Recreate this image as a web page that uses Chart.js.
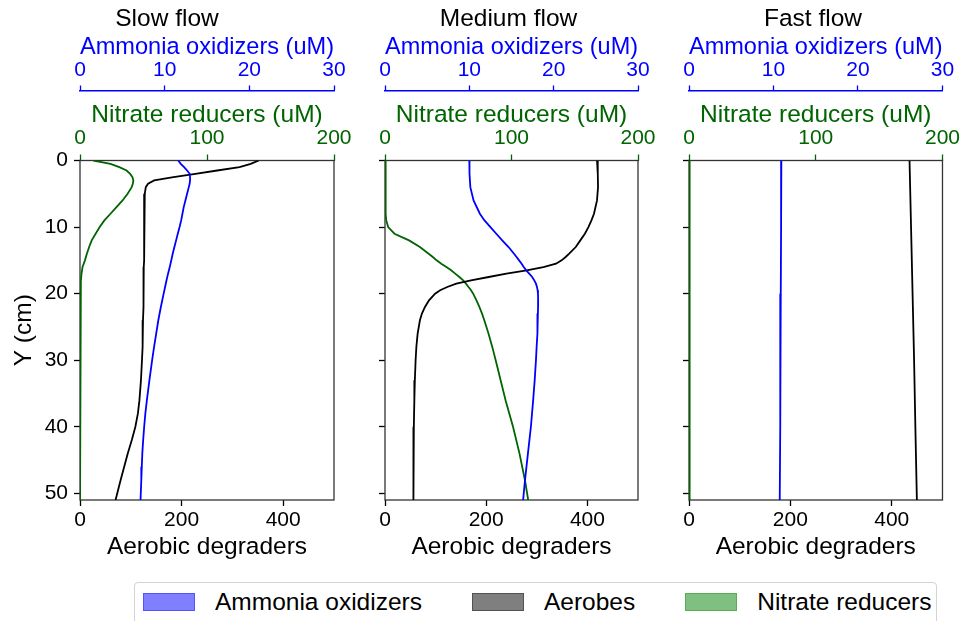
<!DOCTYPE html>
<html>
<head>
<meta charset="utf-8">
<script src="https://cdn.jsdelivr.net/npm/chart.js@4.4.0/dist/chart.umd.min.js"></script>
<style>
    body {
        margin: 0;
        width: 964px;
        height: 621px;
        overflow: hidden;
        background: #fff;
        position: relative;
        font-family: 'Liberation Sans', Arial, sans-serif;
    }
    canvas {
        position: absolute;
        top: 0;
    }
    .legend {
        position: absolute;
        left: 134px;
        top: 582px;
        width: 803px;
        height: 60px;
        border: 1px solid #d3d3d3;
        border-radius: 4px;
        box-sizing: border-box;
        display: flex;
        flex-wrap: nowrap;
        align-items: flex-start;
        padding-left: 8px;
        padding-top: 9px;
        font-size: 24.5px;
        color: #000;
        white-space: nowrap;
    }
    .legend .patch {
        flex: 0 0 auto;
        width: 52px;
        height: 18px;
        box-sizing: border-box;
        margin-right: 20px;
    }
    .legend .item {
        flex: 0 0 auto;
        display: flex;
        align-items: center;
        margin-right: 50px;
        line-height: 20px;
    }
</style>
</head>
<body>
<canvas id="slow" width="357" height="562" style="left:0px"></canvas>
<canvas id="medium" width="295" height="562" style="left:365px"></canvas>
<canvas id="fast" width="299" height="562" style="left:665px"></canvas>
<div class="legend" id="legend"></div>

<script>
// tick labels
const depthTicks = [0, 10, 20, 30, 40, 50];
const aerobicTicks = [0, 200, 400];
const ammoniaTicks = [0, 10, 20, 30];
const nitrateTicks = [0, 100, 200];

const seriesNames = ['Ammonia oxidizers', 'Aerobes', 'Nitrate reducers'];

// Slow flow
const slowDepth = [0, 0.5, 1, 1.5, 2, 2.5, 3, 3.5, 4, 5, 6, 7, 8, 9, 10, 11, 12, 13, 14, 15, 16, 17, 18, 19, 20,
    22, 24, 26, 28, 30, 33, 36, 38, 40, 42, 44, 46, 48, 51];
const slowAerobes = [352, 336, 314, 270, 227, 184, 146, 134, 129.5, 127.5, 127, 126.5, 126.5, 126.5, 126, 126, 126, 126, 126, 126,
    125.5, 125.5, 125, 125, 125, 124.5, 124, 123.5, 123, 122, 120, 117, 114, 109, 102, 94, 87, 80, 70];
const slowAmmonia = [11.6, 11.9, 12.3, 12.65, 12.95, 13.0, 13.0, 12.95, 12.85, 12.65, 12.45, 12.25, 12.1, 11.95, 11.76, 11.55,
    11.35, 11.15, 10.95, 10.78, 10.6, 10.4, 10.22, 10.05, 9.88, 9.55, 9.25, 9.0, 8.75, 8.52, 8.2, 7.9, 7.72, 7.58, 7.46,
    7.36, 7.3, 7.24, 7.15];
const slowNitrate = [10.5, 24, 31, 36.7, 39.5, 41.3, 42, 41.6, 40.7, 37.5, 33.5, 28.7, 24, 19.2, 15.5, 12.3, 9.2, 7.2, 5.4,
    3.9, 2.0, 1.2, 0.7, 0.4, 0.2, 0.05, 0, 0, 0, 0, 0, 0, 0, 0, 0, 0, 0, 0, 0];

// Medium flow
const mediumDepth = [0, 2, 4, 6, 8, 9, 10, 11, 12, 13, 14, 14.5, 15, 15.5, 16, 16.5, 17, 17.5, 18, 18.5, 19, 19.5, 20,
    21, 22, 23, 24, 26, 28, 30, 33, 36, 40, 44, 48, 51];
const mediumAerobes = [419, 420.5, 421, 419, 413, 408, 402, 395, 386, 377, 364, 357, 349, 338, 313, 280, 240, 205, 170, 141,
    123, 109, 99, 87, 79, 73, 69, 64.5, 62, 60.5, 59, 58, 57, 56.5, 56, 56];
const mediumAmmonia = [10.0, 10.02, 10.12, 10.5, 11.25, 11.8, 12.5, 13.2, 13.9, 14.65, 15.3, 15.6, 15.9, 16.2, 16.45, 16.75,
    17.1, 17.45, 17.7, 17.9, 18.02, 18.1, 18.14, 18.16, 18.15, 18.13, 18.1, 18.05, 17.98, 17.9, 17.75, 17.57, 17.3,
    16.95, 16.6, 16.38];
const mediumNitrate = [0.5, 0.5, 0.5, 0.5, 0.6, 1.0, 2.5, 7.5, 19, 27.6, 34.5, 37.8, 40.8, 44.5, 48.5, 52.3, 55.5, 58.8,
    61.8, 64, 66, 68, 69.7, 72.3, 74.6, 76.7, 78.5, 81.8, 84.8, 87.5, 91.4, 95.3, 101.2, 106.3, 110.6, 113.2];

// Fast flow
const fastDepth = [0, 10, 20, 30, 40, 51];
const fastAerobes = [435, 438, 441, 444, 446.5, 449.5];
const fastAmmonia = [10.93, 10.9, 10.86, 10.82, 10.78, 10.74];
const fastNitrate = [0.5, 0.5, 0.5, 0.5, 0.5, 0.5];

const BLUE = '#0000ff';
const BLACK = '#000000';
const GREEN = '#006400';
const FRAME = '#333333';

Chart.defaults.font.family = "'Liberation Sans', Arial, sans-serif";
Chart.defaults.color = '#000';

// frame round the plot area, drawn under the lines
const framePlugin = {
    id: 'frame',
    beforeDatasetsDraw(chart) {
        const { ctx, chartArea: a } = chart;
        ctx.save();
        ctx.strokeStyle = FRAME;
        ctx.lineWidth = 1.3;
        ctx.strokeRect(a.left, a.top, a.right - a.left, a.bottom - a.top);
        ctx.restore();
    }
};

function fixTicks(values) {
    return scale => { scale.ticks = values.map(v => ({ value: v })); };
}

function toPoints(depth, values) {
    return depth.map((d, i) => ({ x: values[i], y: d }));
}

function line(label, depth, values, color, axis) {
    return {
        label: label,
        data: toPoints(depth, values),
        xAxisID: axis,
        yAxisID: 'y',
        borderColor: color,
        backgroundColor: color,
        borderWidth: 1.8,
        pointRadius: 0,
        showLine: true,
        tension: 0
    };
}

function makePanel(id, title, depth, ammonia, aerobes, nitrate, opts) {
    const tickFont = { size: 21 };
    const titleFont = { size: 24.5, lineHeight: 1 };
    return new Chart(document.getElementById(id), {
        type: 'scatter',
        data: {
            datasets: [
                line(seriesNames[0], depth, ammonia, BLUE, 'xA'),
                line(seriesNames[1], depth, aerobes, BLACK, 'x'),
                line(seriesNames[2], depth, nitrate, GREEN, 'xN')
            ]
        },
        options: {
            responsive: false,
            animation: false,
            devicePixelRatio: 1,
            layout: { padding: { left: opts.padLeft, right: opts.padRight, top: 0, bottom: 0 } },
            plugins: {
                legend: { display: false },
                tooltip: { enabled: false },
                title: {
                    display: true,
                    text: title,
                    color: '#000',
                    font: { size: 24.5, weight: 'normal', lineHeight: 1 },
                    padding: { top: 7, bottom: 0 }
                }
            },
            scales: {
                x: {
                    type: 'linear',
                    position: 'bottom',
                    min: 0,
                    max: 500,
                    afterBuildTicks: fixTicks(aerobicTicks),
                    afterFit: s => { s.height = 62; },
                    border: { display: false },
                    grid: { drawOnChartArea: false, color: BLACK, tickLength: 6, tickWidth: 1.3 },
                    ticks: { font: tickFont, color: BLACK, padding: 1.5, maxRotation: 0, autoSkip: false },
                    title: { display: true, text: 'Aerobic degraders', color: BLACK, font: titleFont, padding: { top: 0, bottom: 2.5 } }
                },
                xN: {
                    type: 'linear',
                    position: 'top',
                    weight: 1,
                    min: 0,
                    max: 200,
                    afterBuildTicks: fixTicks(nitrateTicks),
                    afterFit: s => { s.height = 70; },
                    border: { display: false },
                    grid: { drawOnChartArea: false, color: GREEN, tickLength: 6, tickWidth: 1.3 },
                    ticks: { font: tickFont, color: GREEN, padding: 4, maxRotation: 0, autoSkip: false },
                    title: { display: true, text: 'Nitrate reducers (uM)', color: GREEN, font: titleFont, padding: { top: 12.5, bottom: 0 } }
                },
                xA: {
                    type: 'linear',
                    position: 'top',
                    weight: 2,
                    min: 0,
                    max: 30,
                    afterBuildTicks: fixTicks(ammoniaTicks),
                    afterFit: s => { s.height = 59; },
                    border: { display: true, color: BLUE, width: 1.5 },
                    grid: { drawOnChartArea: false, color: BLUE, tickLength: 5, tickWidth: 1.3 },
                    ticks: { font: tickFont, color: BLUE, padding: 3, maxRotation: 0, autoSkip: false },
                    title: { display: true, text: 'Ammonia oxidizers (uM)', color: BLUE, font: titleFont, padding: { top: 3, bottom: 0 } }
                },
                y: {
                    type: 'linear',
                    position: 'left',
                    reverse: true,
                    min: 0,
                    max: 51,
                    afterBuildTicks: fixTicks(depthTicks),
                    afterFit: s => { s.width = opts.yWidth; },
                    border: { display: false },
                    grid: { drawOnChartArea: false, color: BLACK, tickLength: 6, tickWidth: 1.3 },
                    ticks: { display: opts.yLabels, font: tickFont, color: BLACK, padding: 6, autoSkip: false },
                    title: { display: opts.yLabels, text: 'Y (cm)', color: BLACK, font: titleFont, padding: { top: 12, bottom: 0 } }
                }
            }
        },
        plugins: [framePlugin]
    });
}

makePanel('slow', 'Slow flow', slowDepth, slowAmmonia, slowAerobes, slowNitrate,
    { padLeft: 0, padRight: 23, yWidth: 80, yLabels: true });
makePanel('medium', 'Medium flow', mediumDepth, mediumAmmonia, mediumAerobes, mediumNitrate,
    { padLeft: 14, padRight: 22, yWidth: 6, yLabels: false });
makePanel('fast', 'Fast flow', fastDepth, fastAmmonia, fastAerobes, fastNitrate,
    { padLeft: 18, padRight: 21, yWidth: 6, yLabels: false });

// shared legend under the panels
const legendColors = [
    ['rgba(0,0,255,0.5)', 'rgba(0,0,255,0.35)'],
    ['rgba(0,0,0,0.5)', 'rgba(0,0,0,0.35)'],
    ['rgba(0,128,0,0.5)', 'rgba(0,128,0,0.3)']
];
const legend = document.getElementById('legend');
seriesNames.forEach((name, i) => {
    const item = document.createElement('div');
    item.className = 'item';
    const patch = document.createElement('div');
    patch.className = 'patch';
    patch.style.background = legendColors[i][0];
    patch.style.border = '1.5px solid ' + legendColors[i][1];
    const text = document.createElement('span');
    text.textContent = name;
    item.appendChild(patch);
    item.appendChild(text);
    legend.appendChild(item);
});
</script>
</body>
</html>
